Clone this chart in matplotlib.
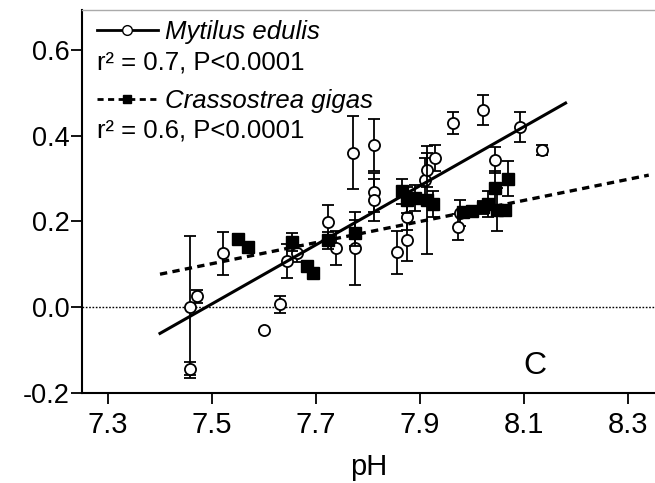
import numpy as np
import matplotlib.pyplot as plt
from matplotlib.lines import Line2D

plt.rcParams['font.family'] = ['Liberation Sans', 'DejaVu Sans']

# Mytilus edulis (open circles)
mytilus_ph = [7.458, 7.471, 7.458, 7.521, 7.600, 7.631, 7.644, 7.663, 7.723, 7.738,
              7.771, 7.775, 7.812, 7.812, 7.812, 7.856, 7.875, 7.875, 7.910, 7.913,
              7.929, 7.963, 7.973, 7.977, 8.021, 8.044, 8.092, 8.135]
mytilus_val = [0.000, 0.026, -0.143, 0.126, -0.054, 0.007, 0.107, 0.126, 0.198, 0.138,
               0.360, 0.138, 0.378, 0.268, 0.250, 0.128, 0.157, 0.210, 0.297, 0.320,
               0.348, 0.430, 0.187, 0.220, 0.460, 0.343, 0.420, 0.367]
mytilus_err = [0.165, 0.015, 0.015, 0.050, 0.000, 0.020, 0.040, 0.020, 0.040, 0.040,
               0.085, 0.085, 0.060, 0.045, 0.050, 0.050, 0.050, 0.030, 0.050, 0.040,
               0.030, 0.025, 0.030, 0.030, 0.035, 0.030, 0.035, 0.012]

# Crassostrea gigas (filled squares)
crass_ph = [7.550, 7.569, 7.654, 7.683, 7.694, 7.723, 7.775, 7.865, 7.875, 7.890,
            7.913, 7.925, 7.983, 8.000, 8.021, 8.030, 8.044, 8.048, 8.063, 8.069]
crass_val = [0.160, 0.140, 0.152, 0.096, 0.079, 0.156, 0.173, 0.270, 0.250, 0.255,
             0.250, 0.240, 0.222, 0.225, 0.233, 0.240, 0.278, 0.227, 0.227, 0.300]
crass_err = [0.010, 0.010, 0.020, 0.010, 0.010, 0.020, 0.030, 0.030, 0.030, 0.030,
             0.125, 0.030, 0.010, 0.010, 0.015, 0.030, 0.040, 0.050, 0.010, 0.040]

# regression lines, end points
mytilus_fit_ph = [7.40, 8.18]
mytilus_fit = [-0.061, 0.476]
crass_fit_ph = [7.40, 8.34]
crass_fit = [0.077, 0.308]

xticks = [7.3, 7.5, 7.7, 7.9, 8.1, 8.3]
yticks = [-0.2, 0.0, 0.2, 0.4, 0.6]

fig = plt.figure(figsize=(6.55, 4.83), dpi=100)
ax = fig.add_axes([0.1252, 0.1863, 0.8748, 0.793])

ax.axhline(0, color='black', lw=1, ls=(0, (1.2, 1.2)), zorder=1)

ax.errorbar(mytilus_ph, mytilus_val, yerr=mytilus_err, fmt='o', ms=8,
            mfc='white', mec='black', mew=1.3, ecolor='black', elinewidth=1.3,
            capsize=4, capthick=1.3, zorder=3)
ax.errorbar(crass_ph, crass_val, yerr=crass_err, fmt='s', ms=8,
            mfc='black', mec='black', ecolor='black', elinewidth=1.3,
            capsize=4, capthick=1.3, zorder=4)

ax.plot(mytilus_fit_ph, mytilus_fit, color='black', lw=2.2, zorder=5)
ax.plot(crass_fit_ph, crass_fit, color='black', lw=2.4, ls=(0, (2.2, 1.6)), zorder=5)

ax.set_xlim(7.25, 8.352)
ax.set_ylim(-0.2, 0.693)
ax.set_xticks(xticks)
ax.set_yticks(yticks)
ax.set_xticklabels([f'{t:.1f}' for t in xticks])
ax.set_yticklabels([f'{t:.1f}' for t in yticks])
ax.tick_params(length=8, width=1.3, color='black')
ax.tick_params(axis='x', labelsize=21, pad=5)
ax.tick_params(axis='y', labelsize=19.5, pad=1)
ax.set_xlabel('pH', fontsize=21, labelpad=10)

for s in ['left', 'bottom']:
    ax.spines[s].set_linewidth(1.5)
ax.spines['right'].set_visible(False)
ax.spines['top'].set_color('#aaaaaa')
ax.spines['top'].set_linewidth(1)

handles = [
    Line2D([], [], color='black', lw=2, marker='o', ms=7, mfc='white', mec='black'),
    Line2D([], [], color='black', lw=2, ls=(0, (2.2, 1.6)), marker='s', ms=6),
]
leg = ax.legend(handles, ['Mytilus edulis', 'Crassostrea gigas'], loc='upper left',
                bbox_to_anchor=(0.012, 0.995), frameon=False, handlelength=2.4,
                handletextpad=0.25, labelspacing=1.78, borderpad=0.1,
                borderaxespad=0.2, prop={'size': 18.5, 'style': 'italic'})
ax.text(0.026, 0.862, 'r\u00b2 = 0.7, P<0.0001', transform=ax.transAxes,
        fontsize=18.5, va='center')
ax.text(0.026, 0.685, 'r\u00b2 = 0.6, P<0.0001', transform=ax.transAxes,
        fontsize=18.5, va='center')
ax.text(0.79, 0.07, 'C', transform=ax.transAxes, fontsize=23, ha='center', va='center')

fig.savefig('out.png', dpi=100)
